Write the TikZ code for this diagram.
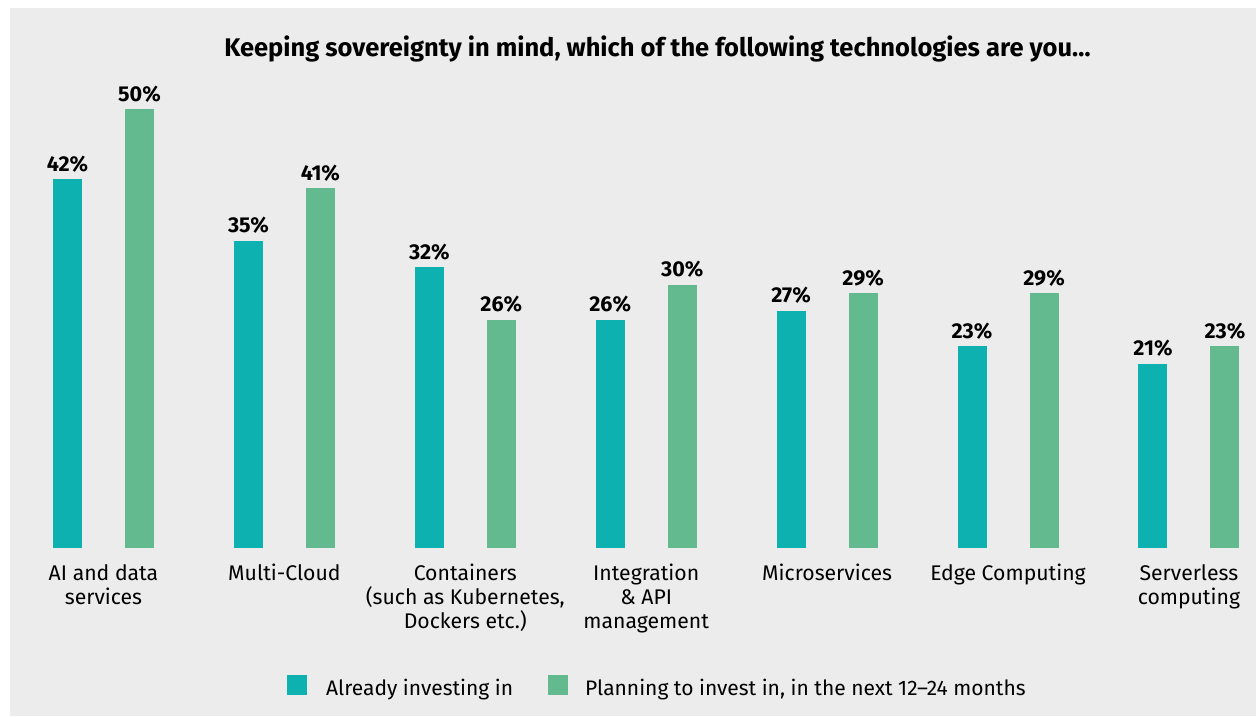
\documentclass[tikz,border=0pt]{standalone}
\usepackage{fontspec}
\setmainfont{Fira Sans}
\definecolor{bg}{HTML}{ECECEC}
\definecolor{teal}{HTML}{0DB1B0}
\definecolor{grn}{HTML}{62BA8E}
\begin{document}
\begin{tikzpicture}[x=1pt,y=-1pt,
  barA/.style={fill=teal,draw=none},
  barB/.style={fill=grn,draw=none},
  val/.style={anchor=base,inner sep=0pt,font=\fontsize{21.5}{24}\selectfont\bfseries},
  cat/.style={anchor=north,inner sep=0pt,align=center,font=\fontsize{21.2}{24}\selectfont},
  leg/.style={anchor=base west,inner sep=0pt,font=\fontsize{21}{24}\selectfont},
  ttl/.style={anchor=base,inner sep=0pt,font=\fontsize{25.5}{30}\selectfont\bfseries}]
\useasboundingbox (0,0) rectangle (1256,716);
\fill[white] (0,0) rectangle (1256,716);
\fill[bg] (10,8) rectangle (1256,716);
\node[ttl] (title) at (657.5,56) {Keeping sovereignty in mind, which of the following technologies are you…};
\def\base{548}
\def\sc{8.78}
\foreach \i/\a/\b/\lab in {
  0/42/50/{AI and data\\services},
  1/35/41/{Multi-Cloud},
  2/32/26/{Containers\\(such as Kubernetes,\\Dockers etc.)},
  3/26/30/{Integration\\\& API\\management},
  4/27/29/{Microservices},
  5/23/29/{Edge Computing},
  6/21/23/{Serverless\\computing}}{
  \pgfmathsetmacro{\xa}{53+180.9*\i}
  \pgfmathsetmacro{\xb}{\xa+72}
  \pgfmathsetmacro{\ya}{\base-\sc*\a}
  \pgfmathsetmacro{\yb}{\base-\sc*\b}
  \fill[barA] (\xa,\base) rectangle (\xa+29,\ya);
  \fill[barB] (\xb,\base) rectangle (\xb+29,\yb);
  \node[val] (va\i) at (\xa+14.5,\ya-8) {\a\%};
  \node[val] (vb\i) at (\xb+14.5,\yb-8) {\b\%};
  \node[cat] (cat\i) at (\xa+50.5,564) {\lab};
}
\fill[teal] (287,675) rectangle (307,695);
\node[leg] (legA) at (326,695) {Already investing in};
\fill[grn] (548,675) rectangle (568,695);
\node[leg] (legB) at (585,695) {Planning to invest in, in the next 12–24 months};
\end{tikzpicture}
\end{document}
